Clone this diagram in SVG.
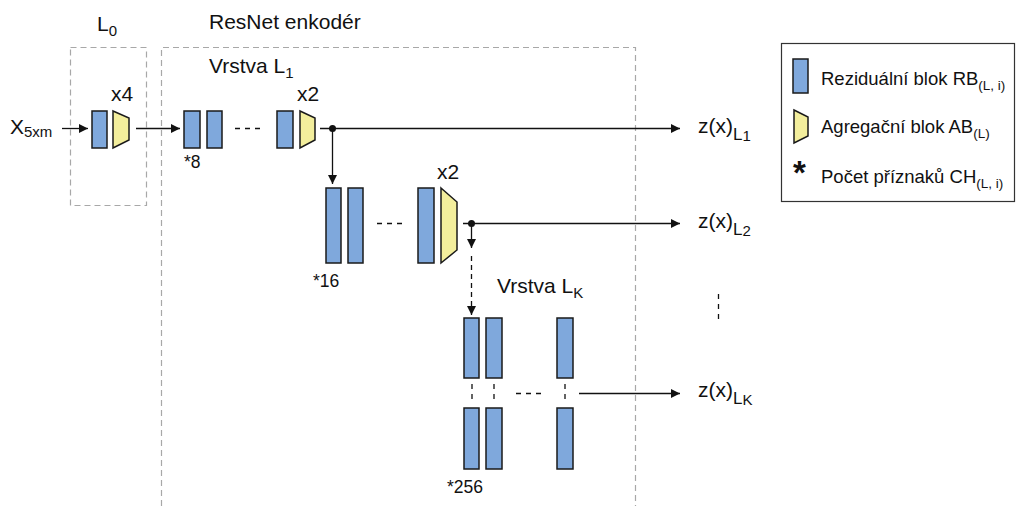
<svg xmlns="http://www.w3.org/2000/svg" width="1017" height="506" viewBox="0 0 1017 506">
<style>
text{font-family:"Liberation Sans",Arial,sans-serif;fill:#111}
.t{font-size:21px}
.s{font-size:15px}
.n{font-size:17.5px}
.lg{font-size:18.5px}
.ls{font-size:13.5px}
.rb{fill:#7FA8DC;stroke:#1a1a1a;stroke-width:1.5}
.ab{fill:#F3EE9C;stroke:#1a1a1a;stroke-width:1.5;stroke-linejoin:miter}
.box{fill:none;stroke:#A8A8A8;stroke-width:1.2;stroke-dasharray:6,4}
.ln{fill:none;stroke:#111;stroke-width:1.3}
.dl{fill:none;stroke:#111;stroke-width:1.3;stroke-dasharray:5,5}
.ar{marker-end:url(#ah)}
</style>
<defs>
<marker id="ah" viewBox="0 0 10 10" refX="10" refY="5" markerWidth="9" markerHeight="9" markerUnits="userSpaceOnUse" orient="auto">
<path d="M0,0 L10,5 L0,10 z" fill="#111"/>
</marker>
</defs>

<g id="frames">
<rect class="box" x="70.5" y="47.5" width="76" height="158"/>
<path class="box" d="M161.5,506 V47.5 H635.5 V506"/>
</g>

<g id="labels">
<text class="t" x="97" y="31">L<tspan class="s" dy="5">0</tspan></text>
<text class="t" x="209" y="29">ResNet enkodér</text>
<text class="t" x="209" y="73">Vrstva L<tspan class="s" dy="5">1</tspan></text>
<text class="t" x="497" y="293">Vrstva L<tspan class="s" dy="5">K</tspan></text>
<text class="t" x="10" y="134">X<tspan class="s" dy="3">5xm</tspan></text>
</g>

<g id="layer0">
<rect class="rb" x="92" y="111" width="15" height="37"/>
<path class="ab" d="M113,111 L129,118 L129,140 L113,148 Z"/>
<text class="t" x="111" y="101">x4</text>
</g>

<g id="layer1">
<rect class="rb" x="184" y="111" width="16" height="37"/>
<rect class="rb" x="207" y="111" width="15" height="37"/>
<rect class="rb" x="277" y="111" width="16" height="37"/>
<path class="ab" d="M300,111 L315,118 L315,140 L300,148 Z"/>
<text class="t" x="297" y="101">x2</text>
<text class="n" x="184" y="168">*8</text>
</g>

<g id="layer2">
<rect class="rb" x="326" y="188" width="15" height="75"/>
<rect class="rb" x="348" y="188" width="15" height="75"/>
<rect class="rb" x="418" y="188" width="16" height="75"/>
<path class="ab" d="M441,188 L457,202 L457,250 L441,263 Z"/>
<text class="t" x="437" y="179">x2</text>
<text class="n" x="313" y="287">*16</text>
</g>

<g id="layerK">
<rect class="rb" x="464" y="318" width="15" height="60"/>
<rect class="rb" x="486" y="318" width="16" height="60"/>
<rect class="rb" x="557" y="318" width="16" height="60"/>
<rect class="rb" x="464" y="408" width="15" height="61"/>
<rect class="rb" x="486" y="408" width="16" height="61"/>
<rect class="rb" x="557" y="408" width="16" height="61"/>
<text class="n" x="447" y="493">*256</text>
</g>

<g id="outputs">
<text class="t" x="698" y="133">z(x)<tspan font-size="17" dy="7">L</tspan><tspan class="s" dy="1">1</tspan></text>
<text class="t" x="698" y="228">z(x)<tspan font-size="17" dy="7">L</tspan><tspan class="s" dy="1">2</tspan></text>
<text class="t" x="698" y="397">z(x)<tspan font-size="17" dy="7">L</tspan><tspan class="s" dy="1">K</tspan></text>
</g>

<g id="connectors">
<line class="ln ar" x1="62" y1="128.5" x2="88" y2="128.5"/>
<line class="ln ar" x1="136" y1="128.5" x2="180" y2="128.5"/>
<line class="dl" x1="235" y1="128.5" x2="264" y2="128.5"/>
<line class="ln ar" x1="320" y1="128.5" x2="680" y2="128.5"/>
<circle cx="332.5" cy="128.5" r="3.5" fill="#111"/>
<line class="ln ar" x1="332.5" y1="128" x2="332.5" y2="184"/>
<line class="dl" x1="377" y1="223.5" x2="405" y2="223.5"/>
<line class="ln ar" x1="463" y1="223.5" x2="680" y2="223.5"/>
<circle cx="471.5" cy="223.5" r="3.5" fill="#111"/>
<line class="ln ar" x1="471.5" y1="223" x2="471.5" y2="248"/>
<line class="ln ar" x1="471.5" y1="256" x2="471.5" y2="315" stroke-dasharray="5,4"/>
<line class="dl" x1="472" y1="384" x2="472" y2="404" stroke-dasharray="4,4"/>
<line class="dl" x1="494" y1="384" x2="494" y2="404" stroke-dasharray="4,4"/>
<line class="dl" x1="565" y1="384" x2="565" y2="404" stroke-dasharray="4,4"/>
<line class="dl" x1="516" y1="393.5" x2="544" y2="393.5"/>
<line class="ln ar" x1="579" y1="393.5" x2="680" y2="393.5"/>
<line class="dl" x1="718.5" y1="294" x2="718.5" y2="321" stroke-dasharray="5,5"/>
</g>

<g id="legend">
<rect x="781.5" y="43.5" width="233" height="158" fill="#fff" stroke="#333" stroke-width="1.2"/>
<rect class="rb" x="793" y="59" width="15" height="34"/>
<text class="lg" x="821" y="85">Reziduální blok RB<tspan class="ls" dy="5">(L, i)</tspan></text>
<path class="ab" d="M794,110 L808,117 L808,136 L794,143 Z"/>
<text class="lg" x="821" y="133">Agregační blok AB<tspan class="ls" dy="5">(L)</tspan></text>
<text x="793" y="184" font-size="33" font-weight="bold">*</text>
<text class="lg" x="821" y="183">Počet příznaků CH<tspan class="ls" dy="5">(L, i)</tspan></text>
</g>
</svg>
